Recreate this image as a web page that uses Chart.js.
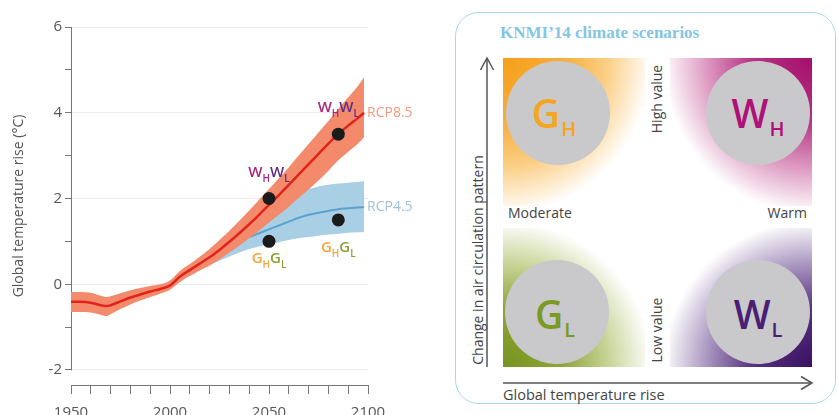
<!DOCTYPE html>
<html>
<head>
<meta charset="utf-8">
<script src="https://cdn.jsdelivr.net/npm/chart.js@4"></script>
<style>
  html, body { margin: 0; padding: 0; width: 838px; height: 415px; overflow: hidden; background: #fff; }
  #wrap { position: relative; width: 838px; height: 415px; overflow: hidden; font-family: "Open Sans", sans-serif; color: #444; }
  #chartBox { position: absolute; left: 0; top: 0; width: 440px; height: 430px; }
  .abs { position: absolute; white-space: nowrap; }
  .box { left: 455px; top: 12px; width: 381px; height: 392px; box-sizing: border-box; border: 1.5px solid #a8d8eb; border-radius: 24px; }
  .title { left: 500px; top: 23px; font: bold 17px "Liberation Serif", serif; color: #83c5e4; }
  .q { position: absolute; }
  .gh { left: 503px; top: 58px; width: 142px; height: 148px; background: radial-gradient(ellipse 105% 105% at 0% 0%, #f6a01a 0%, #f7ad3a 40%, #fbcf86 70%, rgba(255,255,255,0) 100%); }
  .wh { left: 670px; top: 58px; width: 142px; height: 148px; background: radial-gradient(ellipse 105% 105% at 100% 0%, #a50f6c 0%, #b53383 40%, #dc96bf 70%, rgba(255,255,255,0) 100%); }
  .gl { left: 503px; top: 228px; width: 142px; height: 139px; background: radial-gradient(ellipse 105% 105% at 0% 100%, #78931e 0%, #8ea53a 40%, #c6d394 70%, rgba(255,255,255,0) 100%); }
  .wl { left: 670px; top: 228px; width: 142px; height: 139px; background: radial-gradient(ellipse 105% 105% at 100% 100%, #3a1162 0%, #57327f 40%, #a894bf 70%, rgba(255,255,255,0) 100%); }
  .circle { position: absolute; width: 104px; height: 104px; border-radius: 50%; background: #c9c9cb;
            display: flex; align-items: center; justify-content: center; }
  .letter { font-size: 39px; font-weight: 600; line-height: 1; }
  .letter sub { font-size: 20px; vertical-align: -8px; margin-left: 1px; }
  .txt { font-size: 14px; color: #444; line-height: 16px; }
  .rot { transform: translate(-50%, -50%) rotate(-90deg); }
</style>
</head>
<body>
<div id="wrap">
  <div id="chartBox"><canvas id="tempChart" width="440" height="430"></canvas></div>

  <div class="abs box"></div>
  <div class="abs title">KNMI’14 climate scenarios</div>

  <div class="q gh"></div>
  <div class="q wh"></div>
  <div class="q gl"></div>
  <div class="q wl"></div>

  <div class="circle" style="left:506px; top:61px;"><span class="letter" style="color:#f5a51f; margin:6px 8px 0 0;">G<sub>H</sub></span></div>
  <div class="circle" style="left:706px; top:61px;"><span class="letter" style="color:#ae1279; margin-top:6px;">W<sub>H</sub></span></div>
  <div class="circle" style="left:505px; top:260px;"><span class="letter" style="color:#7b9a24; margin:10px 4px 0 0;">G<sub>L</sub></span></div>
  <div class="circle" style="left:706px; top:260px;"><span class="letter" style="color:#4a1f73; margin-top:10px;">W<sub>L</sub></span></div>

  <div class="abs txt" style="left:508px; top:205px;">Moderate</div>
  <div class="abs txt" style="left:707px; top:205px; width:100px; text-align:right;">Warm</div>
  <div class="abs txt rot" style="left:657px; top:99px;">High value</div>
  <div class="abs txt rot" style="left:657px; top:330px;">Low value</div>
  <div class="abs txt rot" style="left:478px; top:260px;">Change in air circulation pattern</div>
  <div class="abs txt" style="left:503px; top:387px; font-size:14.5px;">Global temperature rise</div>

  <svg class="abs" style="left:0; top:0;" width="838" height="415">
    <g stroke="#555" stroke-width="1.5" fill="none">
      <line x1="487" y1="367" x2="487" y2="59" />
      <polyline points="480.5,70 487,58 493.5,70" />
      <line x1="503" y1="383" x2="811" y2="383" />
      <polyline points="801,376.5 812,383 801,389.5" />
    </g>
  </svg>
</div>

<script>
// historical + RCP8.5
const years = [1950, 1955, 1960, 1965, 1968, 1970, 1975, 1980, 1985, 1990, 1995, 2000,
  2005, 2010, 2015, 2020, 2025, 2030, 2035, 2040, 2045, 2050, 2055, 2060, 2065, 2070,
  2075, 2080, 2085, 2090, 2095, 2098];
const rcp85Mean = [-0.41, -0.41, -0.43, -0.49, -0.51, -0.49, -0.40, -0.31, -0.24, -0.17, -0.11, -0.03,
  0.18, 0.33, 0.48, 0.63, 0.80, 0.99, 1.19, 1.40, 1.62, 1.85, 2.08, 2.32, 2.56, 2.80,
  3.04, 3.28, 3.50, 3.70, 3.88, 4.00];
const rcp85Upper = [-0.18, -0.18, -0.20, -0.27, -0.30, -0.28, -0.21, -0.14, -0.09, -0.04, 0.00, 0.09,
  0.31, 0.47, 0.64, 0.82, 1.03, 1.25, 1.48, 1.72, 1.97, 2.22, 2.47, 2.73, 3.00, 3.27,
  3.54, 3.81, 4.09, 4.36, 4.63, 4.83];
const rcp85Lower = [-0.65, -0.65, -0.66, -0.71, -0.74, -0.70, -0.58, -0.47, -0.38, -0.30, -0.22, -0.13,
  0.05, 0.19, 0.32, 0.44, 0.58, 0.74, 0.90, 1.07, 1.25, 1.44, 1.62, 1.81, 2.01, 2.21,
  2.42, 2.65, 2.89, 3.09, 3.28, 3.43];

// RCP4.5
const rcp45Years = [2010, 2015, 2020, 2025, 2030, 2035, 2040, 2045, 2050, 2055, 2060,
  2065, 2070, 2075, 2080, 2085, 2090, 2095, 2098];
const rcp45Mean = [0.33, 0.48, 0.62, 0.76, 0.89, 1.00, 1.10, 1.19, 1.28, 1.37, 1.46,
  1.55, 1.62, 1.67, 1.71, 1.75, 1.77, 1.79, 1.80];
const rcp45Upper = [0.45, 0.62, 0.80, 0.98, 1.15, 1.32, 1.50, 1.66, 1.81, 1.94, 2.06,
  2.15, 2.22, 2.28, 2.32, 2.35, 2.37, 2.39, 2.40];
const rcp45Lower = [0.20, 0.33, 0.45, 0.55, 0.65, 0.74, 0.82, 0.88, 0.93, 0.98, 1.03,
  1.07, 1.10, 1.13, 1.16, 1.18, 1.20, 1.21, 1.22];

// KNMI'14 scenario points
const scenarioYears = [2050, 2085, 2050, 2085];
const scenarioValues = [2.0, 3.5, 1.0, 1.5];
const scenarioNames = ['W', 'W', 'G', 'G'];

const yTicks = [-2, -1, 0, 1, 2, 3, 4, 5, 6];

const pts = (xs, ys) => xs.map((x, i) => ({ x: x, y: ys[i] }));

// baseline offset of each scenario label from its dot
const labelDy = [-21, -22, 22, 32];
const subColors = {
  W: ['#a6287f', '#5c2d83'],
  G: ['#f2a83a', '#88a23a']
};

const extras = {
  id: 'extras',
  beforeDatasetsDraw(chart) {
    const { ctx, chartArea, scales: { y } } = chart;
    ctx.save();
    ctx.strokeStyle = '#777';
    ctx.lineWidth = 1;
    ctx.beginPath();
    ctx.moveTo(chartArea.left + 0.5, y.getPixelForValue(6));
    ctx.lineTo(chartArea.left + 0.5, y.getPixelForValue(-2) + 0.5);
    ctx.stroke();
    ctx.restore();
  },
  afterDatasetsDraw(chart) {
    const { ctx, scales: { x, y } } = chart;
    ctx.save();
    ctx.textBaseline = 'alphabetic';
    const big = '600 15px "Open Sans"';
    const small = '600 10px "Open Sans"';
    scenarioYears.forEach((yr, i) => {
      const name = scenarioNames[i];
      const cols = subColors[name];
      const parts = [
        { t: name, f: big, c: cols[0], dy: 0 },
        { t: 'H', f: small, c: cols[0], dy: 5 },
        { t: name, f: big, c: cols[1], dy: 0 },
        { t: 'L', f: small, c: cols[1], dy: 5 }
      ];
      let total = 0;
      parts.forEach(p => { ctx.font = p.f; p.w = ctx.measureText(p.t).width; total += p.w; });
      let px = x.getPixelForValue(yr) - total / 2;
      const base = y.getPixelForValue(scenarioValues[i]) + labelDy[i];
      parts.forEach(p => {
        ctx.font = p.f;
        ctx.fillStyle = p.c;
        ctx.fillText(p.t, px, base + p.dy);
        px += p.w;
      });
    });

    // series names at line ends
    ctx.font = '14px "Open Sans"';
    ctx.textBaseline = 'middle';
    ctx.fillStyle = '#f39a7c';
    ctx.fillText('RCP8.5', x.getPixelForValue(years[years.length - 1]) + 3, y.getPixelForValue(rcp85Mean[rcp85Mean.length - 1]));
    ctx.fillStyle = '#9fc3da';
    ctx.fillText('RCP4.5', x.getPixelForValue(rcp45Years[rcp45Years.length - 1]) + 3, y.getPixelForValue(rcp45Mean[rcp45Mean.length - 1]));
    ctx.restore();
  }
};

new Chart(document.getElementById('tempChart'), {
  type: 'line',
  data: {
    datasets: [
      {
        label: 'scenarios',
        data: pts(scenarioYears, scenarioValues),
        showLine: false,
        pointRadius: 6.5,
        pointBackgroundColor: '#1b1b1b',
        pointBorderWidth: 0,
        order: 0
      },
      {
        label: 'RCP8.5',
        data: pts(years, rcp85Mean),
        borderColor: '#e2231a',
        borderWidth: 2.5,
        pointRadius: 0,
        cubicInterpolationMode: 'monotone',
        fill: false,
        order: 1
      },
      {
        label: 'RCP8.5 upper',
        data: pts(years, rcp85Upper),
        borderWidth: 0,
        pointRadius: 0,
        backgroundColor: '#f38a6b',
        cubicInterpolationMode: 'monotone',
        fill: '+1',
        order: 2
      },
      {
        label: 'RCP8.5 lower',
        data: pts(years, rcp85Lower),
        borderWidth: 0,
        pointRadius: 0,
        cubicInterpolationMode: 'monotone',
        fill: false,
        order: 3
      },
      {
        label: 'RCP4.5',
        data: pts(rcp45Years, rcp45Mean),
        borderColor: '#5aa2cf',
        borderWidth: 2,
        pointRadius: 0,
        cubicInterpolationMode: 'monotone',
        fill: false,
        order: 4
      },
      {
        label: 'RCP4.5 upper',
        data: pts(rcp45Years, rcp45Upper),
        borderWidth: 0,
        pointRadius: 0,
        backgroundColor: '#a9cfe5',
        cubicInterpolationMode: 'monotone',
        fill: '+1',
        order: 5
      },
      {
        label: 'RCP4.5 lower',
        data: pts(rcp45Years, rcp45Lower),
        borderWidth: 0,
        pointRadius: 0,
        cubicInterpolationMode: 'monotone',
        fill: false,
        order: 6
      }
    ]
  },
  options: {
    responsive: false,
    animation: false,
    events: [],
    layout: { padding: { top: 27, right: 72, left: 0, bottom: 0 } },
    plugins: {
      legend: { display: false },
      tooltip: { enabled: false }
    },
    scales: {
      x: {
        type: 'linear',
        min: 1950,
        max: 2100,
        afterFit: s => { s.height = 45; },
        border: { display: true, color: '#777', width: 1 },
        grid: { drawOnChartArea: false, drawTicks: true, tickLength: 9, tickColor: '#777' },
        ticks: {
          stepSize: 10,
          autoSkip: false,
          maxRotation: 0,
          padding: 10,
          color: '#555',
          font: { family: 'Open Sans', size: 15 },
          callback: v => (v % 50 === 0 ? String(v) : '')
        }
      },
      y: {
        min: -2.35,
        max: 6,
        afterFit: s => { s.width = 71; },
        afterBuildTicks: s => { s.ticks = yTicks.map(v => ({ value: v })); },
        border: { display: false },
        grid: {
          color: c => (c.tick && c.tick.value % 2 === 0 ? '#ebebeb' : 'rgba(0,0,0,0)'),
          tickColor: '#777',
          tickLength: 6
        },
        ticks: {
          padding: 3,
          color: '#555',
          font: { family: 'Open Sans', size: 15 },
          callback: v => (v % 2 === 0 ? String(v) : '')
        },
        title: {
          display: true,
          text: 'Global temperature rise (°C)',
          color: '#555',
          font: { family: 'Open Sans', size: 14 },
          padding: { top: 11, bottom: 0 }
        }
      }
    }
  },
  plugins: [extras]
});
</script>
</body>
</html>
